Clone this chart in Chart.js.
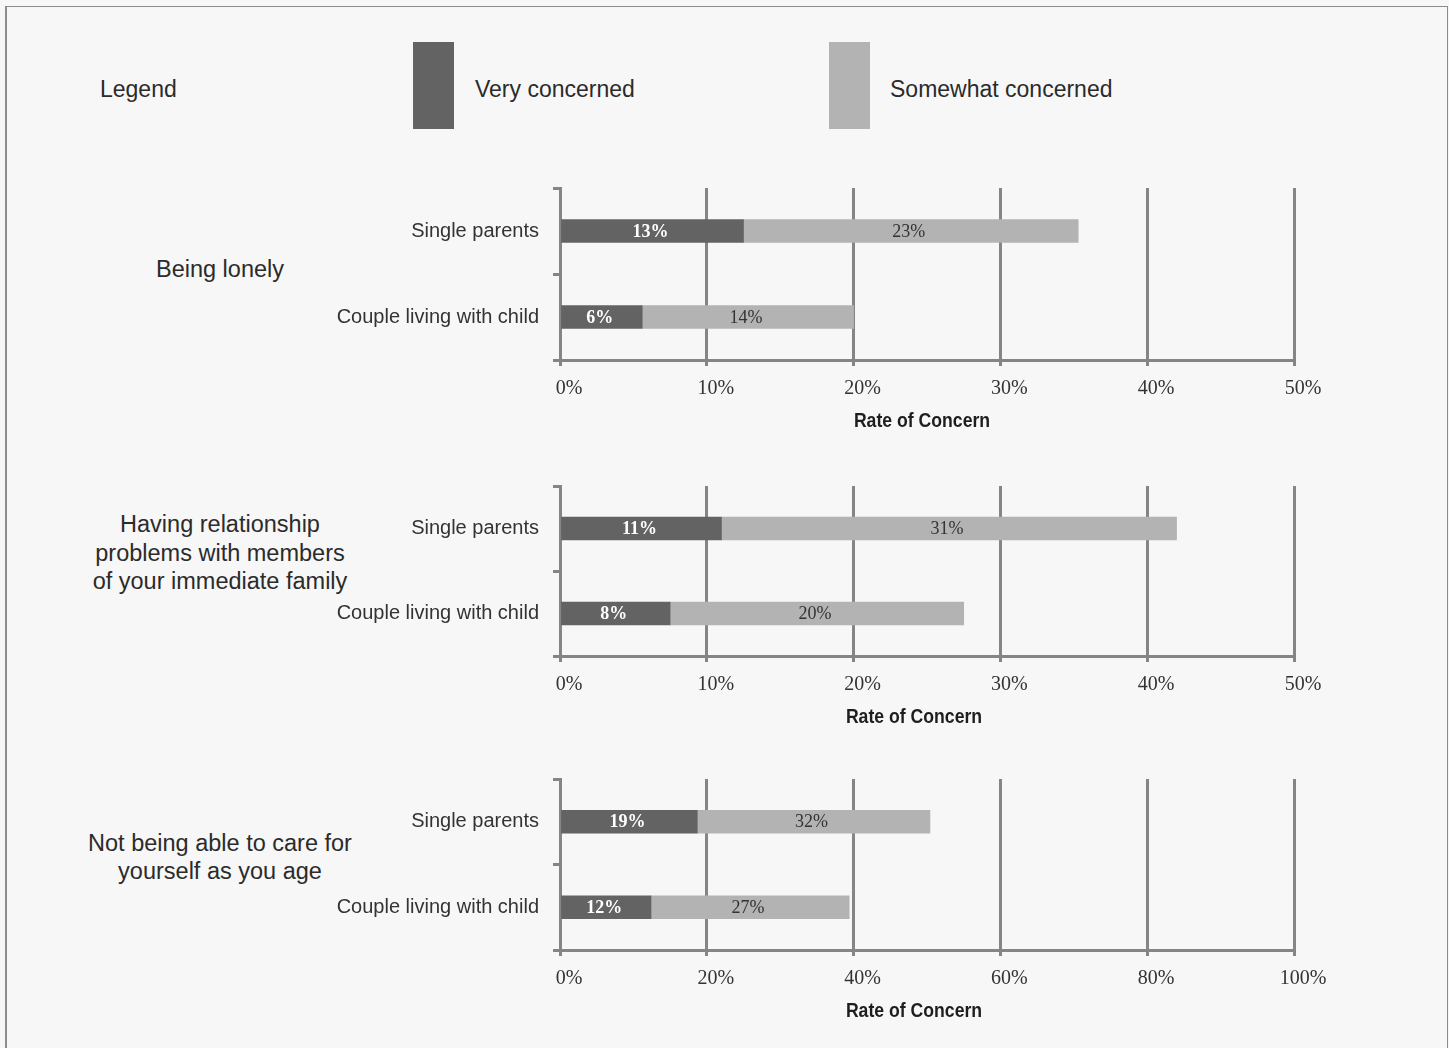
<!DOCTYPE html>
<html>
<head>
<meta charset="utf-8">
<script src="https://cdn.jsdelivr.net/npm/chart.js@4.4.1/dist/chart.umd.min.js"></script>
<style>
  body { margin: 0; background: #f7f7f7; width: 1449px; height: 1048px; overflow: hidden; position: relative;
         font-family: 'Liberation Sans', Arial, sans-serif; color: #2b2b2b; }
  #frame { position: absolute; left: 5px; top: 6px; width: 1440px; height: 1100px;
           border: 1px solid #8c8c8c; border-left-width: 2px; }
  .txt { position: absolute; font-size: 23px; line-height: 28px; white-space: nowrap; }
  .swatch { position: absolute; top: 42px; width: 41px; height: 87px; }
  .group { position: absolute; left: 60px; width: 320px; text-align: center; font-size: 23.5px; line-height: 28.5px; }
  canvas { position: absolute; left: 300px; }
</style>
</head>
<body>
<div id="frame"></div>
<div class="txt" style="left:100px; top:75px;">Legend</div>
<div class="swatch" id="sw0" style="left:413px;"></div>
<div class="txt" id="lg0" style="left:475px; top:75px;"></div>
<div class="swatch" id="sw1" style="left:829px;"></div>
<div class="txt" id="lg1" style="left:890px; top:75px;"></div>
<div id="groups"></div>
<canvas id="panel0"></canvas>
<canvas id="panel1"></canvas>
<canvas id="panel2"></canvas>
<script>
// question groups (one per panel) and the two household types
const groups = [['Being lonely'], ['Having relationship', 'problems with members', 'of your immediate family'], ['Not being able to care for', 'yourself as you age']];
const categories = ['Single parents', 'Couple living with child'];
const seriesNames = ['Very concerned', 'Somewhat concerned'];
const axisTitleText = 'Rate of Concern';

// values in %
const lonelyVery = [12.5, 5.6];
const lonelySome = [22.8, 14.4];
const familyVery = [11.0, 7.5];
const familySome = [31.0, 20.0];
const careVery = [18.7, 12.4];
const careSome = [31.7, 27.0];

// x axis range per panel
const axisMax = [50, 50, 100];
const axisStep = [10, 10, 20];

const darkColor = '#636363';
const lightColor = '#b3b3b3';
const gridColor = '#858585';
const serif = '"Liberation Serif", "Times New Roman", serif';
const sans = '"Liberation Sans", Arial, sans-serif';

// layout of each panel's plot area on the page
const panelTop = [188, 486, 779];
const panelHeight = [172, 170, 171];
const groupCenter = [269, 553, 857];
const titleShift = [-5, -13, -13];

document.getElementById('sw0').style.background = darkColor;
document.getElementById('sw1').style.background = lightColor;
document.getElementById('lg0').textContent = seriesNames[0];
document.getElementById('lg1').textContent = seriesNames[1];

groups.forEach((lines, i) => {
  const div = document.createElement('div');
  div.className = 'group';
  div.style.top = (groupCenter[i] - lines.length * 28.5 / 2) + 'px';
  div.innerHTML = lines.join('<br>');
  document.getElementById('groups').appendChild(div);
});

// value labels in the middle of each bar segment
const barLabels = {
  id: 'barLabels',
  afterDatasetsDraw(chart) {
    const ctx = chart.ctx;
    ctx.save();
    ctx.textAlign = 'center';
    ctx.textBaseline = 'middle';
    chart.data.datasets.forEach((ds, i) => {
      chart.getDatasetMeta(i).data.forEach((bar, j) => {
        ctx.font = (i === 0 ? 'bold ' : '') + '18px ' + serif;
        ctx.fillStyle = i === 0 ? '#ffffff' : '#333333';
        ctx.fillText(Math.round(ds.data[j]) + '%', (bar.x + bar.base) / 2 - 2, bar.y + 1);
      });
    });
    ctx.restore();
  }
};

// condensed bold axis title (no narrow font installed, so squeeze it)
const axisTitle = {
  id: 'axisTitle',
  afterDraw(chart, args, opts) {
    const x = chart.scales.x;
    const ctx = chart.ctx;
    ctx.save();
    ctx.font = 'bold 21px ' + sans;
    ctx.fillStyle = '#1e1e1e';
    ctx.textAlign = 'center';
    ctx.textBaseline = 'middle';
    ctx.translate((x.left + x.right) / 2 + opts.shift, x.bottom - 12);
    ctx.scale(0.84, 1);
    ctx.fillText(opts.text, 0, 0);
    ctx.restore();
  }
};

function makePanel(idx, very, some) {
  const canvas = document.getElementById('panel' + idx);
  canvas.style.top = (panelTop[idx] - 10) + 'px';
  canvas.width = 1060;
  canvas.height = 10 + panelHeight[idx] + 73;
  new Chart(canvas, {
    type: 'bar',
    data: {
      labels: categories,
      datasets: [
        { label: seriesNames[0], data: very, backgroundColor: darkColor, barThickness: 23 },
        { label: seriesNames[1], data: some, backgroundColor: lightColor, barThickness: 23 }
      ]
    },
    options: {
      indexAxis: 'y', responsive: false, animation: false, devicePixelRatio: 1,
      layout: { padding: { top: 10, right: 66, left: 0, bottom: 0 } },
      plugins: {
        legend: { display: false }, tooltip: { enabled: false },
        axisTitle: { text: axisTitleText, shift: titleShift[idx] }
      },
      scales: {
        x: {
          stacked: true, min: 0, max: axisMax[idx],
          ticks: { stepSize: axisStep[idx], callback: v => v + '%', color: '#333', font: { family: serif, size: 20 },
                   padding: 11, labelOffset: 9, maxRotation: 0, autoSkip: false },
          grid: { color: gridColor, lineWidth: 3, tickLength: 6 },
          border: { color: gridColor, width: 3 },
          afterFit: a => { a.height = 73; a.paddingLeft = 0; a.paddingRight = 0; }
        },
        y: {
          stacked: true,
          ticks: { color: '#333', font: { family: sans, size: 20 }, padding: 14 },
          grid: { drawOnChartArea: false, color: gridColor, lineWidth: 3, tickLength: 7 },
          border: { color: gridColor, width: 3 },
          afterFit: a => { a.width = 260; a.paddingTop = 0; a.paddingBottom = 0; }
        }
      }
    },
    plugins: [barLabels, axisTitle]
  });
}

makePanel(0, lonelyVery, lonelySome);
makePanel(1, familyVery, familySome);
makePanel(2, careVery, careSome);
</script>
</body>
</html>
